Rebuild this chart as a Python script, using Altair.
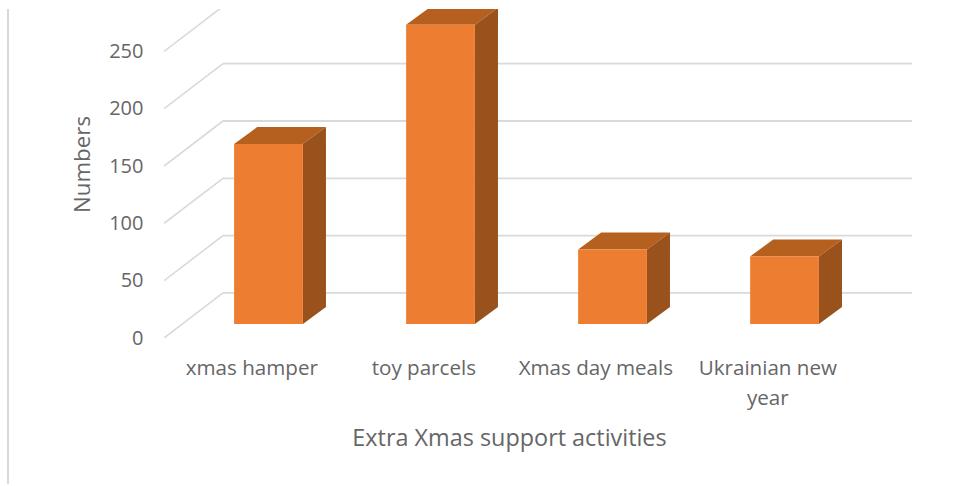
import altair as alt
import pandas as pd

# Survey counts per activity
categories = ["xmas hamper", "toy parcels", "Xmas day meals", "Ukrainian new year"]
values = [157, 261, 65, 59]
y_ticks = [0, 50, 100, 150, 200, 250]
wall_levels = [0, 50, 100, 150, 200, 250]

# Pseudo-3D geometry, in axis units (x: one unit per category, y: counts)
BAR_HALF = 0.2
BAR_DX = 0.134
BAR_DY = 14.8
FLOOR_LIFT = 12.2
WALL_DX = 0.343
WALL_DY = 39.3
X_MIN, X_MAX = -0.6076, 3.741
Y_MAX = 287
LABEL_SHIFT = -0.1

FONT = "Open Sans"
TEXT = "#666666"
GRID = "#d9d9d9"

x_scale = alt.Scale(domain=[X_MIN, X_MAX], nice=False, zero=False)
y_scale = alt.Scale(domain=[0, Y_MAX], nice=False, zero=False)

front, side, top = [], [], []
for i, (name, v) in enumerate(zip(categories, values)):
    l, r = i - BAR_HALF, i + BAR_HALF
    base = FLOOR_LIFT
    front.append({"cat": name, "x": l, "x2": r, "y": base, "y2": base + v})
    side.append({"cat": name, "x": r, "y": base, "y2": base + v})
    side.append({"cat": name, "x": r + BAR_DX, "y": base + BAR_DY, "y2": base + BAR_DY + v})
    top.append({"cat": name, "y": base + v, "x": l, "x2": r})
    top.append({"cat": name, "y": base + v + BAR_DY, "x": l + BAR_DX, "x2": r + BAR_DX})

walls = pd.DataFrame(
    [
        {"x": X_MIN, "x2": X_MIN + WALL_DX, "xe": X_MAX, "y": v, "y2": v + WALL_DY}
        for v in wall_levels
    ]
)

label_lookup = (
    "{'0': 'xmas hamper', '1': 'toy parcels', '2': 'Xmas day meals', "
    "'3': ['Ukrainian new', 'year']}[round(datum.value + 0.1)]"
)

x_axis = alt.Axis(
    values=[i + LABEL_SHIFT for i in range(len(categories))],
    labelExpr=label_lookup,
    domain=False,
    ticks=False,
    grid=False,
    labelFont=FONT,
    labelFontSize=20.6,
    labelColor=TEXT,
    labelPadding=20,
    labelLineHeight=30,
    labelOverlap=False,
    labelFlush=False,
    title="Extra Xmas support activities",
    titleFont=FONT,
    titleFontSize=23.4,
    titleFontWeight="normal",
    titleColor=TEXT,
    titleX=345,
    titleY=100,
    titleBaseline="middle",
)
y_axis = alt.Axis(
    values=y_ticks,
    domain=False,
    ticks=False,
    grid=False,
    labelFont=FONT,
    labelFontSize=20,
    labelColor=TEXT,
    labelPadding=21,
    title="Numbers",
    titleFont=FONT,
    titleFontSize=22.3,
    titleFontWeight="normal",
    titleColor=TEXT,
    titleX=-82,
    titleY=155,
    titleBaseline="middle",
)

diagonals = (
    alt.Chart(walls)
    .mark_rule(color=GRID, strokeWidth=1.6, clip=True)
    .encode(
        x=alt.X("x:Q", scale=x_scale, axis=x_axis),
        x2="x2:Q",
        y=alt.Y("y:Q", scale=y_scale, axis=y_axis),
        y2="y2:Q",
    )
)
wall_lines = (
    alt.Chart(walls)
    .mark_rule(color=GRID, strokeWidth=1.8, clip=True)
    .encode(x=alt.X("x2:Q", scale=x_scale), x2="xe:Q", y=alt.Y("y2:Q", scale=y_scale))
)
top_faces = (
    alt.Chart(pd.DataFrame(top))
    .mark_area(orient="horizontal", color="#b5601f", clip=True)
    .encode(
        y=alt.Y("y:Q", scale=y_scale),
        x=alt.X("x:Q", scale=x_scale),
        x2="x2:Q",
        detail="cat:N",
    )
)
side_faces = (
    alt.Chart(pd.DataFrame(side))
    .mark_area(color="#9a521d", clip=True)
    .encode(
        x=alt.X("x:Q", scale=x_scale),
        y=alt.Y("y:Q", scale=y_scale),
        y2="y2:Q",
        detail="cat:N",
    )
)
front_faces = (
    alt.Chart(pd.DataFrame(front))
    .mark_rect(color="#ed7d31", clip=True)
    .encode(
        x=alt.X("x:Q", scale=x_scale),
        x2="x2:Q",
        y=alt.Y("y:Q", scale=y_scale),
        y2="y2:Q",
    )
)
# Thin frame line down the left edge of the figure
edge = (
    alt.Chart(pd.DataFrame({"k": [0]}))
    .mark_rule(color=GRID, strokeWidth=2)
    .encode(x=alt.value(-156), y=alt.value(0), y2=alt.value(475))
)

chart = (
    alt.layer(diagonals, wall_lines, top_faces, side_faces, front_faces, edge)
    .properties(
        width=748,
        height=329,
        padding={"left": 164, "top": 9, "right": 45, "bottom": 148},
        autosize=alt.AutoSizeParams(type="none"),
        background="white",
    )
    .configure_view(stroke=None)
)

chart.save("out.html", embed_options={"renderer": "svg", "actions": False})
